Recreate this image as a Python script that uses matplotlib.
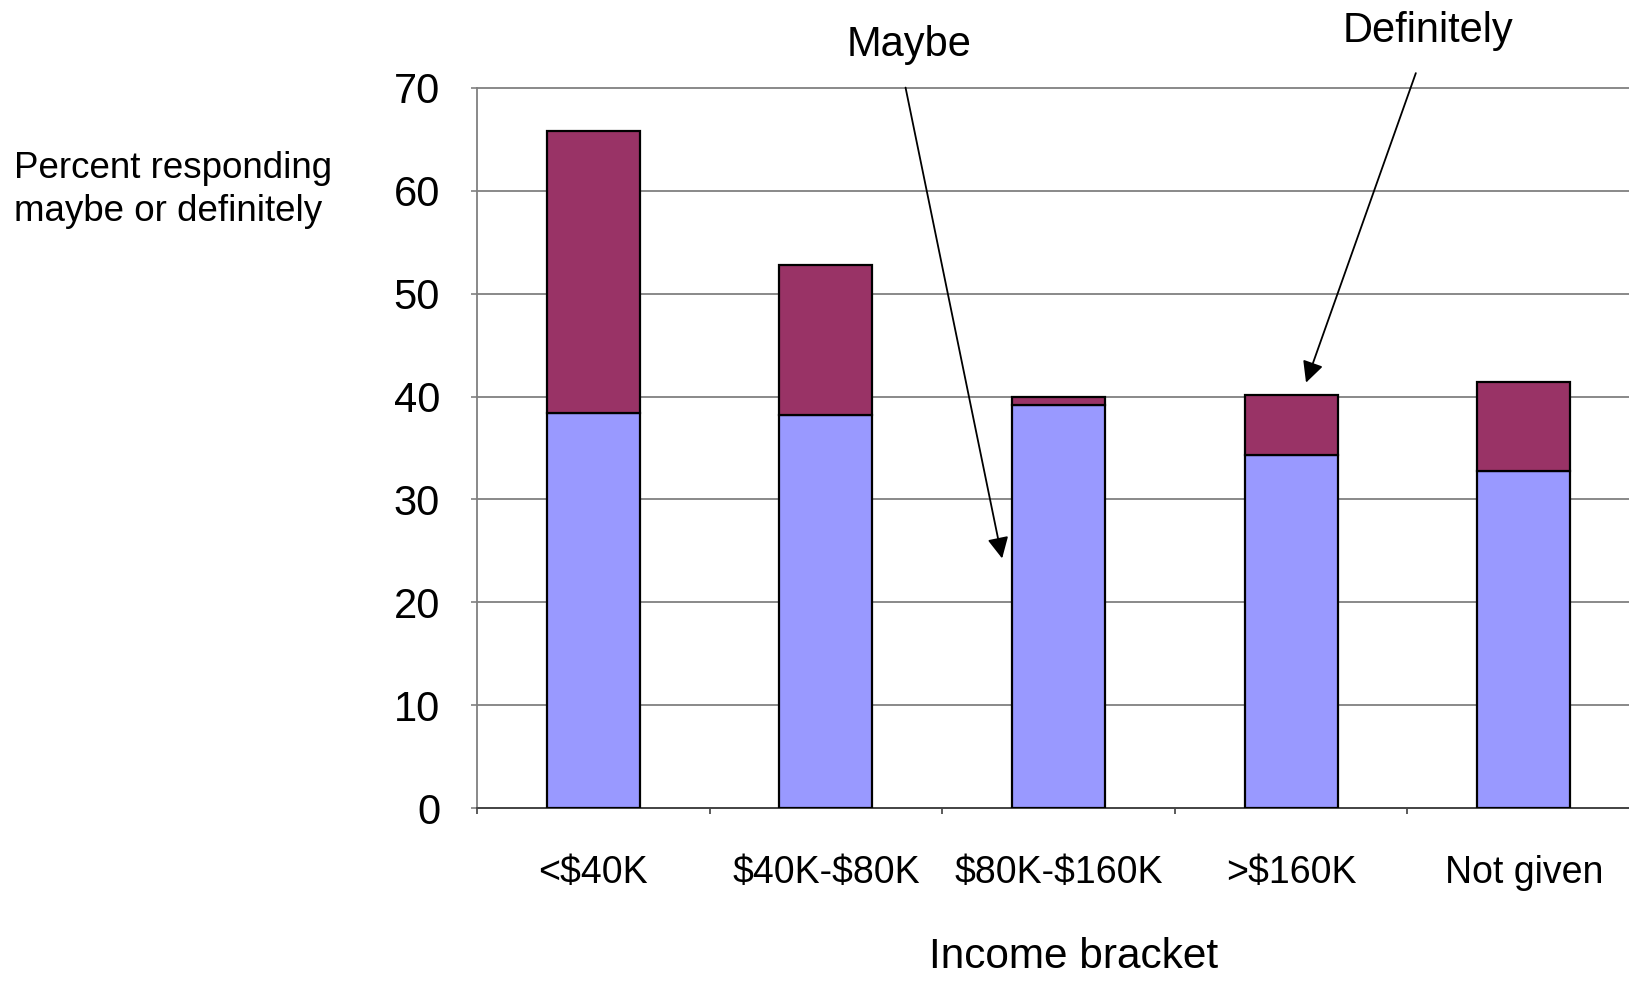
import numpy as np
import matplotlib.pyplot as plt

plt.rcParams['font.family'] = ['Liberation Sans', 'DejaVu Sans']
plt.rcParams['text.parse_math'] = False
# ================================================
# DATA
# ================================================
brackets   = ['<$40K', '$40K-$80K', '$80K-$160K', '>$160K', 'Not given']
maybe      = [38.4, 38.2, 39.2, 34.3, 32.8]
definitely = [27.4, 14.6, 0.8, 5.9, 8.6]
yticks     = [0, 10, 20, 30, 40, 50, 60, 70]
# ================================================
c_maybe = '#9999FF'
c_def   = '#993366'

fig = plt.figure(figsize=(16.29, 9.83), dpi=100)
ax = fig.add_axes([0.2928, 0.178, 0.714, 0.7325])

x = np.arange(len(brackets))
ax.bar(x, maybe, width=0.4, color=c_maybe, edgecolor='black', lw=1.6, zorder=3)
ax.bar(x, definitely, width=0.4, bottom=maybe, color=c_def, edgecolor='black', lw=1.6, zorder=3)

ax.set_xlim(-0.5, len(brackets) - 0.5)
ax.set_ylim(0, 70)
ax.set_yticks(yticks)
ax.tick_params(axis='y', labelsize=30, pad=22, length=4.5, color='#808080', width=1.2)

# category separators as major ticks, names as minor ticks
ax.set_xticks(np.arange(-0.5, len(brackets)), labels=[''] * (len(brackets) + 1))
ax.set_xticks(x, labels=brackets, minor=True)
ax.tick_params(axis='x', which='major', length=4, color='#404040', width=1.2, direction='out')
ax.tick_params(axis='x', which='minor', length=0, labelsize=27, pad=34)

ax.grid(axis='y', color='#808080', lw=1.3, zorder=0)
for gl in ax.get_ygridlines():
    gl.set_clip_on(False)
for s in ['top', 'right']:
    ax.spines[s].set_visible(False)
ax.spines['left'].set_color('#808080')
ax.spines['left'].set_linewidth(1.3)
ax.spines['bottom'].set_color('#404040')
ax.spines['bottom'].set_linewidth(1.3)

fig.text(0.0083, 0.807, 'Percent responding\nmaybe or definitely', fontsize=26.5,
         ha='left', va='center', linespacing=1.3)
fig.text(0.659, 0.026, 'Income bracket', fontsize=30.5, ha='center', va='center')

# callouts
ax.text(1.356, 74.2, 'Maybe', fontsize=30, ha='center', va='center', clip_on=False)
ax.annotate('', xy=(1.76, 24.0), xytext=(1.34, 70.3), annotation_clip=False,
            arrowprops=dict(arrowstyle='-|>', color='black', lw=1.3, mutation_scale=32))
ax.text(3.59, 75.5, 'Definitely', fontsize=30, ha='center', va='center', clip_on=False)
ax.annotate('', xy=(3.06, 41.1), xytext=(3.54, 71.7), annotation_clip=False,
            arrowprops=dict(arrowstyle='-|>', color='black', lw=1.3, mutation_scale=32))

plt.savefig('out.png', dpi=100)
plt.close()
